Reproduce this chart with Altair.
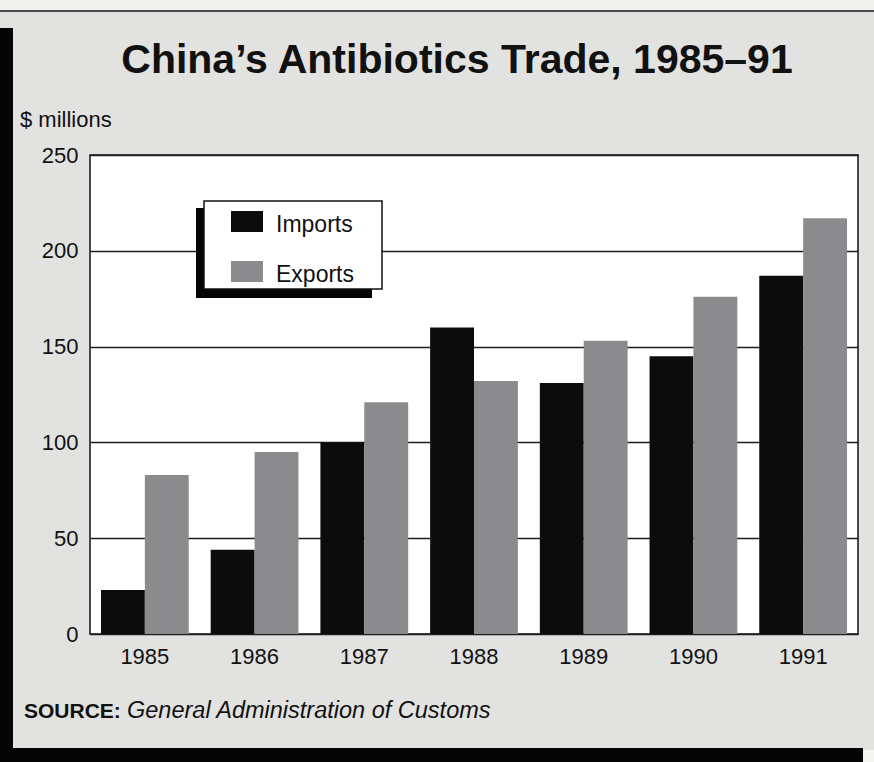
import altair as alt
import pandas as pd

# ---- data ----
YEARS = ["1985", "1986", "1987", "1988", "1989", "1990", "1991"]
IMPORTS = [23, 44, 100, 160, 131, 145, 187]
EXPORTS = [83, 95, 121, 132, 153, 176, 217]
SERIES = ["Imports", "Exports"]
COLORS = ["#0c0c0c", "#8b8b8d"]
Y_TICKS = [0, 50, 100, 150, 200, 250]

TITLE = "China\u2019s Antibiotics Trade, 1985\u201391"
UNIT = "$ millions"
SOURCE_LABEL = "SOURCE:"
SOURCE_TEXT = "General Administration of Customs"

SANS = "Liberation Sans, Arial, sans-serif"

rows = []
for i, y in enumerate(YEARS):
    rows.append({"year": y, "series": SERIES[0], "value": IMPORTS[i]})
    rows.append({"year": y, "series": SERIES[1], "value": EXPORTS[i]})
df = pd.DataFrame(rows)

# plot area geometry (pixels)
L, T, W, H = 90, 155, 768, 479
TOTAL_W, TOTAL_H = 874, 762

bars = alt.Chart(df).mark_bar().encode(
    x=alt.X("year:N", sort=YEARS, title=None,
            scale=alt.Scale(paddingInner=0.2, paddingOuter=0.1),
            axis=alt.Axis(labelAngle=0, ticks=False, tickSize=0, domain=False,
                          labelFont=SANS, labelFontSize=22, labelColor="#111",
                          labelBaseline="alphabetic", labelPadding=29)),
    xOffset=alt.XOffset("series:N", sort=SERIES, scale=alt.Scale(paddingInner=0, paddingOuter=0)),
    y=alt.Y("value:Q", title=None,
            scale=alt.Scale(domain=[0, 250], nice=False),
            axis=alt.Axis(values=Y_TICKS, ticks=False, tickSize=0, domain=False,
                          grid=True, gridColor="#1e1e1e", gridWidth=1.4,
                          labelFont=SANS, labelFontSize=22, labelColor="#111",
                          labelPadding=12)),
    color=alt.Color("series:N", scale=alt.Scale(domain=SERIES, range=COLORS), legend=None),
)

one = pd.DataFrame({"k": [0]})


def rect(x0, x1, y0, y1, fill, stroke=None, sw=0):
    kw = dict(fill=fill, clip=False)
    if stroke:
        kw.update(stroke=stroke, strokeWidth=sw)
    return alt.Chart(one).mark_rect(**kw).encode(
        x=alt.value(x0 - L), x2=alt.value(x1 - L),
        y=alt.value(y0 - T), y2=alt.value(y1 - T))


def text(t, x, y, font, size, weight="normal", style="normal", align="left"):
    return alt.Chart(pd.DataFrame({"t": [t]})).mark_text(
        font=font, fontSize=size, fontWeight=weight, fontStyle=style,
        align=align, baseline="alphabetic", color="#111", clip=False
    ).encode(text="t:N", x=alt.value(x - L), y=alt.value(y - T))


# page frame decorations
deco = [
    rect(0, TOTAL_W, 0, 10, "#f1f1ef"),
    rect(0, TOTAL_W, 10, 12, "#4a4a4a"),
    rect(0, 13, 28, TOTAL_H, "#050505"),
    rect(0, 863, 748, TOTAL_H, "#050505"),
    rect(863, TOTAL_W, 750, TOTAL_H, "#f4f4f2"),
]

texts = [
    text(TITLE, 457, 73, SANS, 41, weight="bold", align="center"),
    text(UNIT, 20, 127, SANS, 22),
    text(SOURCE_LABEL, 24, 718, SANS, 21, weight="bold"),
    text(SOURCE_TEXT, 127, 718, SANS, 23.5, style="italic"),
]

# legend box
legend = [
    rect(196, 372, 208, 298, "#050505"),
    rect(204, 382, 201, 289, "#ffffff", stroke="#111", sw=1.5),
]
for i, (s, c) in enumerate(zip(SERIES, COLORS)):
    legend.append(rect(231, 263, 211 + 50 * i, 232 + 50 * i, c))
    legend.append(text(s, 276, 232 + 50 * i, SANS, 23))

chart = alt.layer(*deco, bars, *legend, *texts).properties(
    width=W, height=H,
    autosize=alt.AutoSizeParams(type="none"),
    padding={"left": L, "top": T, "right": TOTAL_W - L - W, "bottom": TOTAL_H - T - H},
    background="#e2e2e0",
).configure_view(
    fill="#ffffff", stroke="#111111", strokeWidth=1.5
)

chart.save("out.html", embed_options={"renderer": "svg", "actions": False})
